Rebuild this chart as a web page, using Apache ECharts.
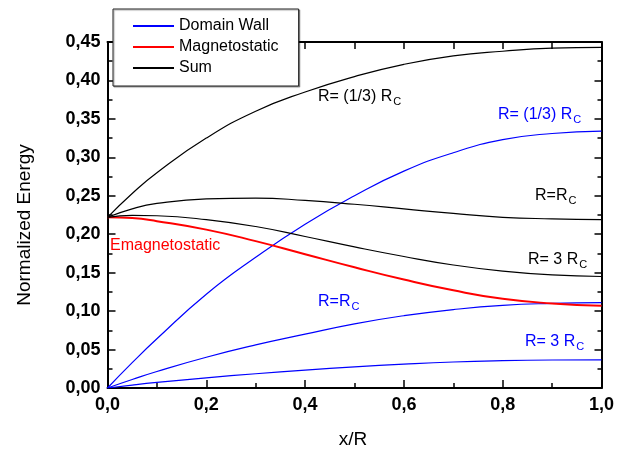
<!DOCTYPE html>
<html>
<head>
<meta charset="utf-8">
<script src="https://cdn.jsdelivr.net/npm/echarts@6/dist/echarts.min.js"></script>
<style>
  html, body { margin: 0; padding: 0; background: #fff; }
  #energyChart { width: 617px; height: 452px; }
</style>
</head>
<body>
<div id="energyChart"></div>
<script>
// values
var xRatio = [0, 0.05, 0.1, 0.2, 0.3, 0.4, 0.5, 0.6, 0.7, 0.8, 0.9, 1.0];
var wallThird = [0, 0.033, 0.064, 0.122, 0.170, 0.213, 0.250, 0.282, 0.306, 0.323, 0.331, 0.334];
var wallOne = [0, 0.011, 0.0215, 0.040, 0.056, 0.070, 0.0835, 0.094, 0.102, 0.1075, 0.110, 0.111];
var wallThree = [0, 0.0038, 0.0072, 0.0132, 0.0185, 0.0232, 0.0275, 0.031, 0.0338, 0.0355, 0.0364, 0.0367];
var magneto = [0.222, 0.221, 0.217, 0.206, 0.191, 0.174, 0.157, 0.141, 0.127, 0.116, 0.110, 0.107];
var sumThird = [0.222, 0.253, 0.280, 0.325, 0.360, 0.385, 0.405, 0.421, 0.432, 0.438, 0.442, 0.443];
var sumOne = [0.222, 0.233, 0.240, 0.246, 0.247, 0.244, 0.239, 0.233, 0.227, 0.222, 0.220, 0.219];
var sumThree = [0.222, 0.2245, 0.224, 0.219, 0.210, 0.197, 0.1835, 0.171, 0.160, 0.152, 0.147, 0.145];
var legendNames = ['Domain Wall', 'Magnetostatic', 'Sum'];

(function(){
    var dom = document.getElementById("energyChart");
    var chart = echarts.init(dom);
    var font = 'Arial, "Liberation Sans", sans-serif';
    var BLUE = '#0000ff', RED = '#ff0000', BLACK = '#000000';

    function pairs(ys) {
        var out = [];
        for (var i = 0; i < xRatio.length; i++) {
            out.push([xRatio[i], ys[i]]);
        }
        return out;
    }
    function line(name, ys, color, width) {
        return {
            name: name,
            type: 'line',
            data: pairs(ys),
            symbol: 'none',
            smooth: 0.5,
            color: color,
            lineStyle: { color: color, width: width },
            silent: true
        };
    }
    function comma(v, d) {
        return v.toFixed(d).replace('.', ',');
    }
    // axis with ticks only (top / right frame)
    function mirror(extra) {
        var ax = {
            type: 'value',
            axisLine: { show: true, onZero: false, lineStyle: { color: BLACK, width: 2 } },
            axisTick: { inside: true, length: 7, lineStyle: { color: BLACK, width: 1.5 } },
            minorTick: { show: true, splitNumber: 2, length: 4, lineStyle: { color: BLACK, width: 1.5 } },
            axisLabel: { show: false },
            splitLine: { show: false }
        };
        for (var k in extra) ax[k] = extra[k];
        return ax;
    }
    function subLabel(text, color, x, y) {
        return {
            type: 'text',
            x: x,
            y: y,
            style: {
                text: '{m|' + text + '}{s|C}',
                fill: color,
                rich: {
                    m: { fontSize: 16, fontFamily: font, fill: color, lineHeight: 20 },
                    s: { fontSize: 11, fontFamily: font, fill: color, padding: [10, 0, 0, 1], lineHeight: 20 }
                }
            }
        };
    }

    var option = {
        animation: false,
        backgroundColor: '#fff',
        grid: { left: 107.5, right: 14, top: 42, bottom: 64 },
        legend: {
            data: legendNames,
            orient: 'vertical',
            left: 113,
            top: 9,
            padding: [9, 20, 10, 19],
            itemWidth: 41,
            itemHeight: 16,
            itemGap: 5,
            itemStyle: { opacity: 0 },
            borderColor: '#222',
            borderWidth: 1,
            backgroundColor: '#fff',
            shadowColor: 'rgba(0,0,0,0.35)',
            shadowOffsetX: 1,
            shadowOffsetY: 1,
            shadowBlur: 1,
            textStyle: { fontSize: 16, fontFamily: font, color: BLACK },
            selectedMode: false
        },
        xAxis: [{
            type: 'value',
            min: 0, max: 1, interval: 0.2,
            axisLine: { show: true, onZero: false, lineStyle: { color: BLACK, width: 2 } },
            axisTick: { inside: true, length: 8, lineStyle: { color: BLACK, width: 1.5 } },
            minorTick: { show: true, splitNumber: 2, length: 5, lineStyle: { color: BLACK, width: 1.5 } },
            axisLabel: {
                margin: 8, fontSize: 18, fontWeight: 'bold', fontFamily: font, color: BLACK,
                formatter: function (v) { return comma(v, 1); }
            },
            splitLine: { show: false }
        }, mirror({ position: 'top', min: 0, max: 1, interval: 0.1, minorTick: { show: false } })],
        yAxis: [{
            type: 'value',
            min: 0, max: 0.45, interval: 0.05,
            axisLine: { show: true, onZero: false, lineStyle: { color: BLACK, width: 2 } },
            axisTick: { inside: true, length: 8, lineStyle: { color: BLACK, width: 1.5 } },
            minorTick: { show: true, splitNumber: 2, length: 5, lineStyle: { color: BLACK, width: 1.5 } },
            axisLabel: {
                margin: 7, fontSize: 18, fontWeight: 'bold', fontFamily: font, color: BLACK,
                formatter: function (v) { return comma(v, 2); }
            },
            splitLine: { show: false }
        }, mirror({ position: 'right', min: 0, max: 0.45, interval: 0.05 })],
        series: [
            line('Domain Wall', wallThird, BLUE, 1.2),
            line('Domain Wall', wallOne, BLUE, 1.2),
            line('Domain Wall', wallThree, BLUE, 1.2),
            line('Magnetostatic', magneto, RED, 2),
            line('Sum', sumThird, BLACK, 1.2),
            line('Sum', sumOne, BLACK, 1.2),
            line('Sum', sumThree, BLACK, 1.2)
        ],
        graphic: [
            {
                type: 'text', x: 25, y: 225, rotation: Math.PI / 2,
                style: { text: 'Normalized Energy', fontSize: 19, fontFamily: font, fill: BLACK, align: 'center', verticalAlign: 'middle' }
            },
            {
                type: 'text', x: 353, y: 440,
                style: { text: 'x/R', fontSize: 19, fontFamily: font, fill: BLACK, align: 'center', verticalAlign: 'middle' }
            },
            {
                type: 'text', x: 110, y: 238,
                style: { text: 'Emagnetostatic', fontSize: 16, fontFamily: font, fill: RED }
            },
            subLabel('R= (1/3) R', BLACK, 318, 87),
            subLabel('R= (1/3) R', BLUE, 498, 105),
            subLabel('R=R', BLACK, 535, 186),
            subLabel('R= 3 R', BLACK, 528, 250),
            subLabel('R=R', BLUE, 318, 292),
            subLabel('R= 3 R', BLUE, 525, 332)
        ]
    };
    chart.setOption(option);
})();
</script>
</body>
</html>
